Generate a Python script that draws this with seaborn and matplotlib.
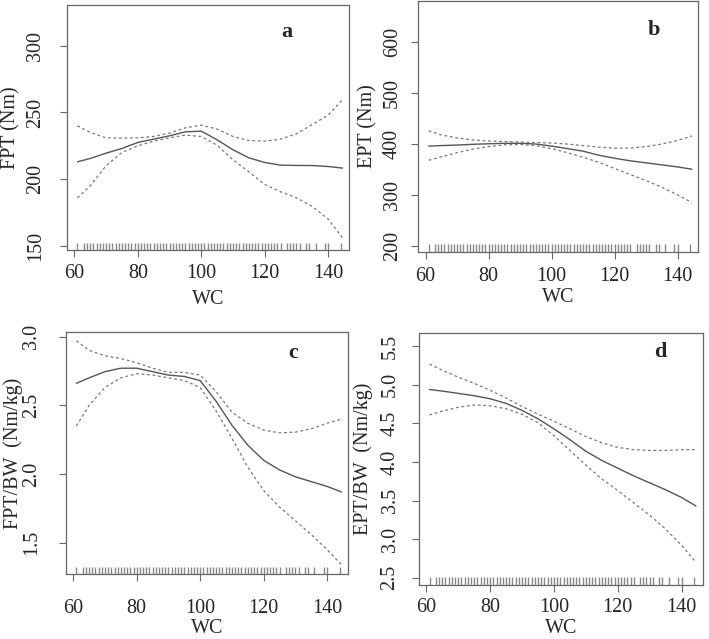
import numpy as np
import pandas as pd
import seaborn as sns
import matplotlib.pyplot as plt

# waist circumference grid at which the smooth fits were read
wc = [61, 65, 70, 75, 80, 85, 90, 95, 100, 105, 110, 115, 120, 125, 130, 135, 140, 144.5]

# a: FPT (Nm)
fpt_fit = [213, 215.5, 219.5, 223, 227.5, 230, 232.5, 235.5, 236, 229.5, 222, 216, 212.5, 210.5, 210.3, 210.2, 209.5, 208.3]
fpt_up = [240, 235, 231, 230.8, 231, 232, 234.5, 238.5, 240.5, 237.5, 232, 229, 228.5, 230, 234, 241, 248, 259.5]
fpt_lo = [186, 195, 210, 220, 225, 228.5, 231, 233, 232, 225.5, 214.5, 205.5, 196, 190.5, 186, 179.5, 170, 156]

# b: EPT (Nm)
ept_fit = [396, 397, 398, 399.5, 400.5, 401.5, 401.5, 400, 396, 391, 386, 378, 372, 367, 363, 359, 355, 350.5]
ept_up = [426, 418, 412, 408, 406, 405, 404, 403, 402, 400, 397, 394, 392, 392, 395, 400, 407, 416]
ept_lo = [368, 375, 383, 390, 395, 398.5, 399, 397, 391, 383, 374, 364, 352, 340, 328, 315, 300, 285]

# c: FPT/BW (Nm/kg)
fptbw_fit = [2.66, 2.70, 2.745, 2.77, 2.77, 2.745, 2.72, 2.71, 2.68, 2.53, 2.355, 2.21, 2.10, 2.03, 1.98, 1.945, 1.91, 1.87]
fptbw_up = [2.97, 2.90, 2.86, 2.84, 2.81, 2.77, 2.74, 2.74, 2.72, 2.60, 2.45, 2.37, 2.32, 2.30, 2.305, 2.33, 2.37, 2.40]
fptbw_lo = [2.35, 2.50, 2.63, 2.70, 2.73, 2.72, 2.70, 2.68, 2.63, 2.46, 2.26, 2.05, 1.88, 1.76, 1.66, 1.56, 1.45, 1.34]

# d: EPT/BW (Nm/kg)
eptbw_fit = [4.94, 4.92, 4.89, 4.86, 4.82, 4.76, 4.67, 4.56, 4.43, 4.29, 4.14, 4.02, 3.92, 3.82, 3.73, 3.64, 3.54, 3.43]
eptbw_up = [5.27, 5.19, 5.10, 5.02, 4.93, 4.83, 4.72, 4.62, 4.53, 4.43, 4.33, 4.25, 4.19, 4.16, 4.15, 4.15, 4.16, 4.16]
eptbw_lo = [4.61, 4.66, 4.71, 4.74, 4.73, 4.69, 4.62, 4.51, 4.34, 4.15, 3.96, 3.78, 3.63, 3.47, 3.31, 3.13, 2.92, 2.70]

# observed WC values (rug)
wc_obs = [61, 63, 64, 65, 66, 67, 68, 69, 70, 71, 72, 73, 74, 75, 76, 77, 78, 79, 80,
          81, 82, 83, 84, 85, 86, 87, 88, 89, 90, 91, 92, 93, 94, 95, 96, 97, 98, 99, 100,
          101, 102, 103, 104, 105, 106, 107, 108, 109, 110, 111, 112, 113, 114, 115, 116,
          117, 118, 119, 120, 121, 122, 123, 124, 125, 127, 128, 129, 130, 131, 133, 134,
          136, 139, 140, 144]

panels = [
    ("a", "FPT (Nm)", fpt_fit, fpt_up, fpt_lo, (147, 330.5), [150, 200, 250, 300], ["150", "200", "250", "300"]),
    ("b", "EPT (Nm)", ept_fit, ept_up, ept_lo, (188, 681), [200, 300, 400, 500, 600], ["200", "300", "400", "500", "600"]),
    ("c", "FPT/BW  (Nm/kg)", fptbw_fit, fptbw_up, fptbw_lo, (1.273, 3.03), [1.5, 2.0, 2.5, 3.0], ["1.5", "2.0", "2.5", "3.0"]),
    ("d", "EPT/BW  (Nm/kg)", eptbw_fit, eptbw_up, eptbw_lo, (2.405, 5.67),
     [2.5, 3.0, 3.5, 4.0, 4.5, 5.0, 5.5], ["2.5", "3.0", "3.5", "4.0", "4.5", "5.0", "5.5"]),
]

# axes rectangles (left, bottom, width, height) in figure fractions
rects = [
    (0.0945, 0.609, 0.398, 0.383),
    (0.590, 0.606, 0.395, 0.392),
    (0.093, 0.1017, 0.398, 0.378),
    (0.591, 0.0845, 0.400, 0.394),
]
letter_pos = [(0.78, 0.89), (0.84, 0.885), (0.805, 0.913), (0.85, 0.925)]
ylab_x = [-0.200, -0.179, -0.188, -0.197]
xlab_y = [-0.204, -0.183, -0.226, -0.172]
xpad = [5, 6, 13, 4]
ypad = [11, 7, 13, 9]

sns.set_style("ticks")
plt.rcParams["font.family"] = ["Liberation Serif", "DejaVu Serif"]

fig = plt.figure(figsize=(7.09, 6.39), dpi=100)

frame_col = "#666666"
for i, (letter, ylab, fit, up, lo, ylim, yt, ytl) in enumerate(panels):
    ax = fig.add_axes(rects[i])
    df = pd.DataFrame({"WC": wc, "fit": fit, "up": up, "lo": lo})
    sns.lineplot(data=df, x="WC", y="fit", ax=ax, color="#555555", lw=1.0, estimator=None, sort=False)
    sns.lineplot(data=df, x="WC", y="up", ax=ax, color="#777777", lw=0.9, linestyle=(0, (2.2, 2.2)),
                 estimator=None, sort=False)
    sns.lineplot(data=df, x="WC", y="lo", ax=ax, color="#777777", lw=0.9, linestyle=(0, (2.2, 2.2)),
                 estimator=None, sort=False)
    sns.rugplot(x=wc_obs, ax=ax, height=0.03, color="#888888", lw=0.7, expand_margins=False)

    ax.set_xlim(57.7, 146.6)
    ax.set_ylim(*ylim)
    ax.set_xticks([60, 80, 100, 120, 140])
    ax.set_yticks(yt)
    ax.set_yticklabels(ytl, rotation=90, va="center")
    ax.tick_params(axis="both", direction="out", length=5, width=0.8, color=frame_col, labelsize=14.5)
    ax.tick_params(axis="x", pad=xpad[i])
    ax.tick_params(axis="y", pad=ypad[i])
    for sp in ax.spines.values():
        sp.set_visible(True)
        sp.set_color(frame_col)
        sp.set_linewidth(0.9)
    ax.set_xlabel("WC", fontsize=14.5, va="center")
    ax.set_ylabel(ylab, fontsize=14.5, va="center")
    ax.xaxis.set_label_coords(0.5, xlab_y[i])
    ax.yaxis.set_label_coords(ylab_x[i], 0.5)
    ax.text(letter_pos[i][0], letter_pos[i][1], letter, transform=ax.transAxes, fontsize=16,
            fontweight="bold", ha="center", va="center")

fig.savefig("out.png", dpi=100)
